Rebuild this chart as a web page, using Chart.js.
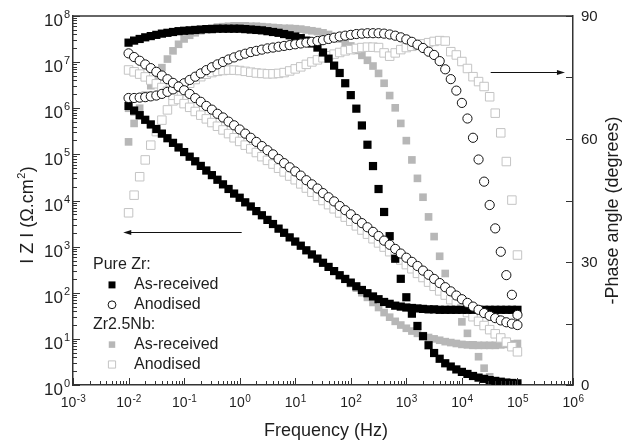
<!DOCTYPE html>
<html>
<head>
<meta charset="utf-8">
<script src="https://cdn.jsdelivr.net/npm/chart.js@4.4.1/dist/chart.umd.min.js"></script>
<style>
  html, body { margin: 0; padding: 0; background: #fff; }
  canvas { display: block; }
</style>
</head>
<body>
<canvas id="bode" width="622" height="443"></canvas>
<script>
// log10 of frequency (Hz), 10 points per decade
const freqLog = [
  -2.0, -1.9, -1.8, -1.7, -1.6, -1.5, -1.4, -1.3, -1.2, -1.1,
  -1.0, -0.9, -0.8, -0.7, -0.6, -0.5, -0.4, -0.3, -0.2, -0.1,
  0.0, 0.1, 0.2, 0.3, 0.4, 0.5, 0.6, 0.7, 0.8, 0.9,
  1.0, 1.1, 1.2, 1.3, 1.4, 1.5, 1.6, 1.7, 1.8, 1.9,
  2.0, 2.1, 2.2, 2.3, 2.4, 2.5, 2.6, 2.7, 2.8, 2.9,
  3.0, 3.1, 3.2, 3.3, 3.4, 3.5, 3.6, 3.7, 3.8, 3.9,
  4.0, 4.1, 4.2, 4.3, 4.4, 4.5, 4.6, 4.7, 4.8, 4.9,
  5.0
];

// log10 |Z| (ohm.cm2)
const zPureAs = [
  6.05, 5.95, 5.85, 5.75, 5.65, 5.55, 5.45, 5.35, 5.25, 5.15,
  5.05, 4.95, 4.85, 4.75, 4.65, 4.55, 4.45, 4.35, 4.25, 4.15,
  4.06, 3.96, 3.87, 3.77, 3.68, 3.58, 3.49, 3.39, 3.30, 3.20,
  3.11, 3.02, 2.92, 2.83, 2.74, 2.65, 2.56, 2.47, 2.38, 2.30,
  2.22, 2.14, 2.06, 1.99, 1.92, 1.86, 1.80, 1.76, 1.72, 1.70,
  1.68, 1.67, 1.66, 1.65, 1.64, 1.64, 1.63, 1.63, 1.63, 1.63,
  1.63, 1.63, 1.63, 1.63, 1.63, 1.63, 1.63, 1.63, 1.63, 1.63,
  1.63
];
const zPureAn = [
  7.19, 7.11, 7.03, 6.95, 6.87, 6.79, 6.71, 6.63, 6.55, 6.47,
  6.39, 6.31, 6.22, 6.14, 6.05, 5.97, 5.88, 5.80, 5.71, 5.63,
  5.54, 5.45, 5.36, 5.27, 5.18, 5.09, 5.00, 4.90, 4.81, 4.72,
  4.63, 4.54, 4.44, 4.35, 4.26, 4.16, 4.07, 3.98, 3.88, 3.79,
  3.70, 3.60, 3.51, 3.42, 3.32, 3.23, 3.13, 3.04, 2.95, 2.85,
  2.76, 2.67, 2.58, 2.48, 2.39, 2.30, 2.21, 2.12, 2.03, 1.94,
  1.86, 1.78, 1.70, 1.63, 1.56, 1.50, 1.45, 1.40, 1.36, 1.33,
  1.30
];
const zNbAs = [
  6.00, 5.92, 5.83, 5.74, 5.64, 5.54, 5.45, 5.35, 5.25, 5.15,
  5.05, 4.95, 4.85, 4.75, 4.65, 4.55, 4.45, 4.35, 4.25, 4.15,
  4.06, 3.96, 3.87, 3.77, 3.68, 3.58, 3.49, 3.39, 3.30, 3.20,
  3.11, 3.02, 2.92, 2.83, 2.74, 2.65, 2.56, 2.47, 2.37, 2.29,
  2.20, 2.10, 2.00, 1.90, 1.79, 1.68, 1.57, 1.47, 1.38, 1.30,
  1.23, 1.17, 1.12, 1.07, 1.03, 1.00, 0.97, 0.94, 0.92, 0.90,
  0.88, 0.87, 0.86, 0.86, 0.86, 0.86, 0.86, 0.87, 0.88, 0.89,
  0.90
];
const zNbAn = [
  6.83, 6.79, 6.74, 6.68, 6.61, 6.53, 6.45, 6.37, 6.28, 6.19,
  6.10, 6.02, 5.93, 5.85, 5.77, 5.69, 5.61, 5.53, 5.45, 5.36,
  5.28, 5.20, 5.12, 5.04, 4.95, 4.87, 4.79, 4.70, 4.62, 4.53,
  4.45, 4.36, 4.27, 4.18, 4.09, 4.00, 3.91, 3.82, 3.73, 3.64,
  3.55, 3.45, 3.36, 3.27, 3.17, 3.08, 2.99, 2.89, 2.80, 2.71,
  2.61, 2.52, 2.42, 2.33, 2.23, 2.14, 2.04, 1.95, 1.85, 1.76,
  1.66, 1.57, 1.48, 1.38, 1.29, 1.20, 1.11, 1.02, 0.93, 0.83,
  0.72
];

// -phase angle (degrees)
const phPureAs = [
  83.5, 84.0, 84.4, 84.8, 85.1, 85.4, 85.7, 85.9, 86.1, 86.3,
  86.4, 86.5, 86.6, 86.7, 86.8, 86.8, 86.9, 86.9, 86.9, 86.9,
  86.9, 86.8, 86.7, 86.6, 86.5, 86.3, 86.1, 85.9, 85.6, 85.3,
  85.0, 84.6, 84.0, 83.3, 82.3, 81.1, 79.6, 77.9, 76.1, 73.6,
  70.7, 67.4, 63.3, 58.6, 53.4, 47.8, 42.2, 36.3, 30.8, 25.9,
  21.4, 17.4, 14.4, 11.9, 9.7, 7.8, 6.4, 5.3, 4.5, 3.8,
  3.2, 2.7, 2.2, 1.8, 1.5, 1.2, 1.0, 0.8, 0.6, 0.5,
  0.4
];
const phPureAn = [
  70.0, 70.0, 70.1, 70.2, 70.4, 70.6, 71.0, 71.5, 72.1, 72.8,
  73.6, 74.4, 75.2, 76.0, 76.8, 77.5, 78.2, 78.8, 79.4, 79.9,
  80.4, 80.8, 81.2, 81.5, 81.8, 82.1, 82.3, 82.5, 82.7, 82.9,
  83.1, 83.3, 83.5, 83.7, 83.9, 84.1, 84.4, 84.7, 85.0, 85.2,
  85.4, 85.6, 85.7, 85.8, 85.8, 85.8, 85.7, 85.5, 85.2, 84.8,
  84.3, 83.7, 83.0, 82.2, 81.3, 80.5, 79.0, 77.0, 74.6, 71.8,
  68.8, 65.0, 60.3, 55.0, 49.6, 43.9, 38.2, 32.5, 26.8, 22.0,
  17.1
];
const phNbAs = [
  59.3, 63.8, 67.5, 70.7, 73.0, 75.2, 77.4, 79.5, 81.5, 83.1,
  84.4, 85.3, 85.9, 86.4, 86.8, 87.1, 87.3, 87.4, 87.5, 87.6,
  87.6, 87.6, 87.5, 87.5, 87.4, 87.3, 87.2, 87.1, 87.0, 87.0,
  86.9, 86.8, 86.6, 86.4, 86.2, 85.9, 85.5, 85.0, 84.4, 83.6,
  82.7, 81.6, 80.4, 79.2, 77.8, 76.0, 73.6, 70.6, 67.6, 63.8,
  59.6, 54.9, 50.4, 45.8, 41.0, 36.2, 31.4, 27.2, 22.8, 19.1,
  15.4, 12.6, 9.8, 6.9, 4.1, 2.0, 1.0, 0.5, 0.2, 0.1,
  0.0
];
const phNbAn = [
  42.0, 46.3, 50.8, 54.9, 58.5, 61.8, 64.6, 67.1, 69.3, 71.0,
  72.5, 73.6, 74.5, 75.2, 75.8, 76.2, 76.5, 76.7, 76.8, 76.8,
  76.7, 76.5, 76.3, 76.1, 76.0, 75.9, 75.9, 76.0, 76.2, 76.6,
  77.1, 77.6, 78.2, 78.8, 79.3, 79.8, 80.3, 80.7, 81.1, 81.5,
  81.8, 82.1, 82.3, 82.4, 82.4, 82.3, 81.0, 80.2, 81.0, 81.8,
  82.3, 82.6, 82.9, 83.2, 83.5, 83.8, 84.0, 83.9, 81.3, 80.5,
  78.9, 77.2, 75.2, 74.0, 72.8, 70.3, 66.3, 61.5, 54.5, 45.1,
  31.7
];

// axis ticks
const xExp = [-3, -2, -1, 0, 1, 2, 3, 4, 5, 6];
const yExp = [0, 1, 2, 3, 4, 5, 6, 7, 8];
const phaseTicks = [0, 30, 60, 90];
const phaseMinor = [15, 45, 75];

// arrows pointing to the axis each curve family belongs to (data coordinates)
const arrowZ = { x1: 1.087, x2: 0.00803, y: 2040, axis: 'y' };
const arrowPh = { x1: 33000, x2: 716000, y: 76.3, axis: 'y2' };

const FONT = "'Liberation Sans', Arial, sans-serif";
const AXIS = '#333';
const TEXT = '#1e1e1e';
const GRAY = '#b7b7b7';
const LIGHT = '#c4c4c4';

function pts(vals, isLog) {
  return freqLog.map((f, i) => ({ x: Math.pow(10, f), y: isLog ? Math.pow(10, vals[i]) : vals[i] }));
}

// marker styles, shared by datasets and legend
const mkPureAs = { pointStyle: 'rect', pointRadius: 5.8, backgroundColor: '#000', borderColor: '#000', borderWidth: 0 };
const mkPureAn = { pointStyle: 'circle', pointRadius: 4.6, backgroundColor: '#fff', borderColor: '#111', borderWidth: 1 };
const mkNbAs = { pointStyle: 'rect', pointRadius: 5.4, backgroundColor: GRAY, borderColor: GRAY, borderWidth: 0 };
const mkNbAn = { pointStyle: 'rect', pointRadius: 6.0, backgroundColor: '#fff', borderColor: LIGHT, borderWidth: 1 };

function ds(label, vals, isLog, mk) {
  return Object.assign({ label: label, data: pts(vals, isLog), yAxisID: isLog ? 'y' : 'y2', showLine: false, pointHoverRadius: mk.pointRadius }, mk);
}

// first dataset is painted last (on top)
const datasets = [
  ds('Pure Zr anodised |Z|', zPureAn, true, mkPureAn),
  ds('Pure Zr anodised phase', phPureAn, false, mkPureAn),
  ds('Pure Zr as-received |Z|', zPureAs, true, mkPureAs),
  ds('Pure Zr as-received phase', phPureAs, false, mkPureAs),
  ds('Zr2.5Nb anodised |Z|', zNbAn, true, mkNbAn),
  ds('Zr2.5Nb anodised phase', phNbAn, false, mkNbAn),
  ds('Zr2.5Nb as-received |Z|', zNbAs, true, mkNbAs),
  ds('Zr2.5Nb as-received phase', phNbAs, false, mkNbAs)
];

function logTicks(exps) {
  const out = [];
  exps.forEach((e, i) => {
    out.push({ v: Math.pow(10, e), major: true });
    if (i < exps.length - 1) {
      for (let k = 2; k < 10; k++) out.push({ v: k * Math.pow(10, e), major: false });
    }
  });
  return out;
}

function marker(ctx, mk, x, y) {
  ctx.save();
  ctx.fillStyle = mk.backgroundColor;
  ctx.strokeStyle = mk.borderColor;
  ctx.lineWidth = mk.borderWidth || 1;
  ctx.beginPath();
  if (mk.pointStyle === 'circle') {
    ctx.arc(x, y, mk.pointRadius, 0, Math.PI * 2);
  } else {
    const s = mk.pointRadius * Math.SQRT1_2;
    ctx.rect(x - s, y - s, 2 * s, 2 * s);
  }
  ctx.fill();
  if (mk.borderWidth) ctx.stroke();
  ctx.restore();
}

function arrow(ctx, chart, a) {
  const sx = chart.scales.x, sy = chart.scales[a.axis];
  const x1 = sx.getPixelForValue(a.x1), x2 = sx.getPixelForValue(a.x2);
  const y = Math.round(sy.getPixelForValue(a.y)) + 0.5;
  const dir = x2 > x1 ? 1 : -1;
  ctx.beginPath();
  ctx.moveTo(x1, y);
  ctx.lineTo(x2 - dir * 6, y);
  ctx.stroke();
  ctx.beginPath();
  ctx.moveTo(x2, y);
  ctx.lineTo(x2 - dir * 8, y - 2.5);
  ctx.lineTo(x2 - dir * 8, y + 2.5);
  ctx.closePath();
  ctx.fill();
}

const decor = {
  id: 'decor',
  afterDraw(chart) {
    const ctx = chart.ctx;
    const a = chart.chartArea;
    const sx = chart.scales.x, sy = chart.scales.y, sp = chart.scales.y2;
    ctx.save();

    // top edge of the frame
    ctx.strokeStyle = AXIS;
    ctx.lineWidth = 1.5;
    ctx.beginPath();
    ctx.moveTo(a.left, a.top);
    ctx.lineTo(a.right, a.top);
    ctx.stroke();

    // inward ticks
    ctx.lineWidth = 1;
    ctx.beginPath();
    logTicks(xExp).forEach(t => {
      const px = Math.round(sx.getPixelForValue(t.v)) + 0.5;
      ctx.moveTo(px, a.bottom);
      ctx.lineTo(px, a.bottom - (t.major ? 7 : 4));
    });
    logTicks(yExp).forEach(t => {
      const py = Math.round(sy.getPixelForValue(t.v)) + 0.5;
      ctx.moveTo(a.left, py);
      ctx.lineTo(a.left + (t.major ? 7 : 4), py);
    });
    phaseTicks.concat(phaseMinor).forEach(v => {
      const py = Math.round(sp.getPixelForValue(v)) + 0.5;
      ctx.moveTo(a.right, py);
      ctx.lineTo(a.right - 7, py);
    });
    ctx.stroke();

    // tick labels
    ctx.fillStyle = TEXT;
    ctx.textBaseline = 'middle';
    xExp.forEach(e => {
      const px = sx.getPixelForValue(Math.pow(10, e));
      ctx.font = '14px ' + FONT;
      const w1 = ctx.measureText('10').width;
      ctx.font = '10px ' + FONT;
      const w2 = ctx.measureText(String(e)).width;
      const x0 = px - (w1 + w2) / 2;
      ctx.textAlign = 'left';
      ctx.font = '14px ' + FONT;
      ctx.fillText('10', x0, a.bottom + 18);
      ctx.font = '10px ' + FONT;
      ctx.fillText(String(e), x0 + w1 + 0.5, a.bottom + 14);
    });
    yExp.forEach(e => {
      const py = sy.getPixelForValue(Math.pow(10, e));
      ctx.font = '17px ' + FONT;
      ctx.textAlign = 'right';
      ctx.fillText('10', a.left - 10, py + 5.5);
      ctx.font = '11px ' + FONT;
      ctx.textAlign = 'left';
      ctx.fillText(String(e), a.left - 9, py - 1);
    });
    ctx.font = '15px ' + FONT;
    ctx.textAlign = 'left';
    phaseTicks.forEach(v => {
      ctx.fillText(String(v), a.right + 8, sp.getPixelForValue(v) + 1);
    });

    // axis titles
    ctx.textBaseline = 'alphabetic';
    ctx.font = '18px ' + FONT;
    ctx.textAlign = 'center';
    ctx.fillText('Frequency (Hz)', (a.left + a.right) / 2 + 3, a.bottom + 51);

    ctx.save();
    ctx.translate(618, (a.top + a.bottom) / 2 + 10);
    ctx.rotate(-Math.PI / 2);
    ctx.fillText('-Phase angle (degrees)', 0, 0);
    ctx.restore();

    ctx.save();
    ctx.translate(33, (a.top + a.bottom) / 2 + 15);
    ctx.rotate(-Math.PI / 2);
    const main = 'I Z I (\u03A9.cm', sup = '2', tail = ')';
    ctx.font = '18px ' + FONT;
    const wm = ctx.measureText(main).width, wt = ctx.measureText(tail).width;
    ctx.font = '11px ' + FONT;
    const ws = ctx.measureText(sup).width;
    let tx = -(wm + ws + wt) / 2;
    ctx.textAlign = 'left';
    ctx.font = '18px ' + FONT;
    ctx.fillText(main, tx, 0);
    ctx.font = '11px ' + FONT;
    ctx.fillText(sup, tx + wm + 0.5, -8);
    ctx.font = '18px ' + FONT;
    ctx.fillText(tail, tx + wm + ws + 1, 0);
    ctx.restore();

    // arrows
    ctx.strokeStyle = '#111';
    ctx.fillStyle = '#111';
    ctx.lineWidth = 1;
    arrow(ctx, chart, arrowZ);
    arrow(ctx, chart, arrowPh);

    // legend
    const lx = a.left + 20, ly = 265;
    ctx.fillStyle = TEXT;
    ctx.font = '16px ' + FONT;
    ctx.textBaseline = 'middle';
    ctx.textAlign = 'left';
    const rows = [
      { head: 'Pure Zr:' },
      { mk: mkPureAs, text: 'As-received' },
      { mk: mkPureAn, text: 'Anodised' },
      { head: 'Zr2.5Nb:' },
      { mk: mkNbAs, text: 'As-received' },
      { mk: mkNbAn, text: 'Anodised' }
    ];
    rows.forEach((r, i) => {
      const y = ly + i * 19.9;
      if (r.head) {
        ctx.fillText(r.head, lx, y);
      } else {
        marker(ctx, Object.assign({}, r.mk, { pointRadius: r.mk.pointRadius * 0.85 }), lx + 19, y);
        ctx.fillStyle = TEXT;
        ctx.fillText(r.text, lx + 41, y);
      }
    });

    ctx.restore();
  }
};

const axisBorder = { display: true, color: AXIS, width: 1.5 };

new Chart(document.getElementById('bode'), {
  type: 'scatter',
  data: { datasets: datasets },
  options: {
    responsive: false,
    animation: false,
    layout: { padding: { top: 16, left: 0, right: 0, bottom: 0 } },
    plugins: { legend: { display: false }, tooltip: { enabled: false } },
    scales: {
      x: {
        type: 'logarithmic', position: 'bottom', min: 1e-3, max: 1e6,
        ticks: { display: false }, grid: { display: false, drawTicks: false }, border: axisBorder,
        afterFit: s => { s.height = 58; }
      },
      y: {
        type: 'logarithmic', position: 'left', min: 1, max: 1e8,
        ticks: { display: false }, grid: { display: false, drawTicks: false }, border: axisBorder,
        afterFit: s => { s.width = 73; }
      },
      y2: {
        type: 'linear', position: 'right', min: 0, max: 90,
        ticks: { display: false }, grid: { display: false, drawTicks: false }, border: axisBorder,
        afterFit: s => { s.width = 49; }
      }
    }
  },
  plugins: [decor]
});
</script>
</body>
</html>
